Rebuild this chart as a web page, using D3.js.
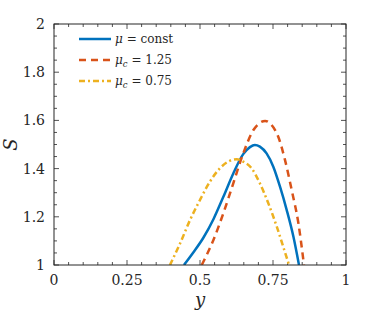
<!DOCTYPE html>
<html>
<head>
<meta charset="utf-8">
<script src="https://cdn.jsdelivr.net/npm/d3@7"></script>
<style>
  body { margin: 0; background: #fff; }
</style>
</head>
<body>
<div id="chart"></div>
<script>
// series data
const yConst = [0.445, 0.477, 0.511, 0.546, 0.580, 0.614, 0.648, 0.671, 0.688, 0.705, 0.728, 0.751, 0.774, 0.797, 0.820, 0.839];
const sConst = [1.0, 1.052, 1.112, 1.190, 1.283, 1.380, 1.460, 1.489, 1.498, 1.491, 1.463, 1.408, 1.325, 1.228, 1.117, 1.0];

const yHigh = [0.506, 0.546, 0.580, 0.614, 0.648, 0.683, 0.705, 0.723, 0.745, 0.768, 0.791, 0.814, 0.837, 0.856];
const sHigh = [1.0, 1.104, 1.215, 1.339, 1.463, 1.560, 1.590, 1.598, 1.581, 1.532, 1.436, 1.311, 1.173, 1.0];

const yLow = [0.397, 0.432, 0.466, 0.500, 0.534, 0.568, 0.603, 0.626, 0.648, 0.677, 0.705, 0.734, 0.763, 0.785, 0.805];
const sLow = [1.0, 1.090, 1.187, 1.270, 1.346, 1.401, 1.433, 1.439, 1.429, 1.401, 1.339, 1.256, 1.159, 1.076, 1.0];

const xTicks = [0, 0.25, 0.5, 0.75, 1];
const xTickLabels = ["0", "0.25", "0.5", "0.75", "1"];
const yTicks = [1, 1.2, 1.4, 1.6, 1.8, 2];
const yTickLabels = ["1", "1.2", "1.4", "1.6", "1.8", "2"];

const W = 383, H = 312;
const margin = { top: 24, right: 37, bottom: 47, left: 54 };
const w = W - margin.left - margin.right;
const h = H - margin.top - margin.bottom;

const serif = "'DejaVu Serif', serif";

const svg = d3.select("#chart").append("svg")
    .attr("width", W)
    .attr("height", H)
    .style("font-family", serif);

const g = svg.append("g").attr("transform", `translate(${margin.left},${margin.top})`);

const x = d3.scaleLinear().domain([0, 1]).range([0, w]);
const y = d3.scaleLinear().domain([1, 2]).range([h, 0]);

const axisColor = "#262626";

// minor ticks every 0.05
const minorX = d3.range(0, 1.0001, 0.05);
const minorY = d3.range(1, 2.0001, 0.05);

// tick marks (inward) on all four sides
const ticks = g.append("g").attr("stroke", axisColor).attr("stroke-width", 0.8);
minorX.forEach(v => {
    const major = xTicks.some(t => Math.abs(t - v) < 1e-6);
    const len = major ? 5 : 3;
    ticks.append("line").attr("x1", x(v)).attr("x2", x(v)).attr("y1", h).attr("y2", h - len);
    ticks.append("line").attr("x1", x(v)).attr("x2", x(v)).attr("y1", 0).attr("y2", len);
});
minorY.forEach(v => {
    const major = yTicks.some(t => Math.abs(t - v) < 1e-6);
    const len = major ? 5 : 3;
    ticks.append("line").attr("x1", 0).attr("x2", len).attr("y1", y(v)).attr("y2", y(v));
    ticks.append("line").attr("x1", w).attr("x2", w - len).attr("y1", y(v)).attr("y2", y(v));
});

// curves
const line = d3.line().x(d => x(d[0])).y(d => y(d[1])).curve(d3.curveMonotoneX);

const series = [
    { xs: yConst, ys: sConst, color: "#0072BD", dash: null },
    { xs: yHigh, ys: sHigh, color: "#D95319", dash: "7,5" },
    { xs: yLow, ys: sLow, color: "#EDB120", dash: "6,3,2,3" }
];

g.append("clipPath").attr("id", "clip").append("rect")
    .attr("width", w).attr("height", h);

series.forEach(s => {
    g.append("path")
        .datum(s.xs.map((v, i) => [v, s.ys[i]]))
        .attr("fill", "none")
        .attr("stroke", s.color)
        .attr("stroke-width", 2.5)
        .attr("stroke-dasharray", s.dash)
        .attr("clip-path", "url(#clip)")
        .attr("d", line);
});

// box
g.append("rect")
    .attr("width", w).attr("height", h)
    .attr("fill", "none")
    .attr("stroke", axisColor)
    .attr("stroke-width", 1);

// tick labels
g.selectAll(".xl").data(xTicks).enter().append("text")
    .attr("x", d => x(d)).attr("y", h + 20)
    .attr("text-anchor", "middle")
    .attr("font-size", 14)
    .attr("fill", axisColor)
    .text((d, i) => xTickLabels[i]);

g.selectAll(".yl").data(yTicks).enter().append("text")
    .attr("x", -9).attr("y", d => y(d) + 5)
    .attr("text-anchor", "end")
    .attr("font-size", 14)
    .attr("fill", axisColor)
    .text((d, i) => yTickLabels[i]);

// axis titles
g.append("text")
    .attr("x", x(0.5)).attr("y", h + 41)
    .attr("text-anchor", "middle")
    .attr("font-size", 18)
    .attr("font-style", "italic")
    .attr("fill", axisColor)
    .text("y");

g.append("text")
    .attr("transform", `translate(${-37},${h / 2}) rotate(-90)`)
    .attr("text-anchor", "middle")
    .attr("font-size", 18)
    .attr("font-style", "italic")
    .attr("fill", axisColor)
    .text("S");

// legend
const legend = [
    { color: "#0072BD", dash: null, sym: "μ", sub: null, rest: " = const" },
    { color: "#D95319", dash: "7,5", sym: "μ", sub: "c", rest: " = 1.25" },
    { color: "#EDB120", dash: "6,3,2,3", sym: "μ", sub: "c", rest: " = 0.75" }
];

legend.forEach((d, i) => {
    const ly = 15 + i * 21;
    g.append("line")
        .attr("x1", 25).attr("x2", 57)
        .attr("y1", ly).attr("y2", ly)
        .attr("stroke", d.color)
        .attr("stroke-width", 2.5)
        .attr("stroke-dasharray", d.dash);
    const t = g.append("text")
        .attr("x", 61).attr("y", ly + 4)
        .attr("font-size", 12)
        .attr("fill", axisColor);
    t.append("tspan").attr("font-style", "italic").text(d.sym);
    if (d.sub) {
        t.append("tspan").attr("font-style", "italic").attr("font-size", 8.5).attr("dy", 3).text(d.sub);
        t.append("tspan").attr("dy", -3).text(d.rest);
    } else {
        t.append("tspan").text(d.rest);
    }
});
</script>
</body>
</html>
